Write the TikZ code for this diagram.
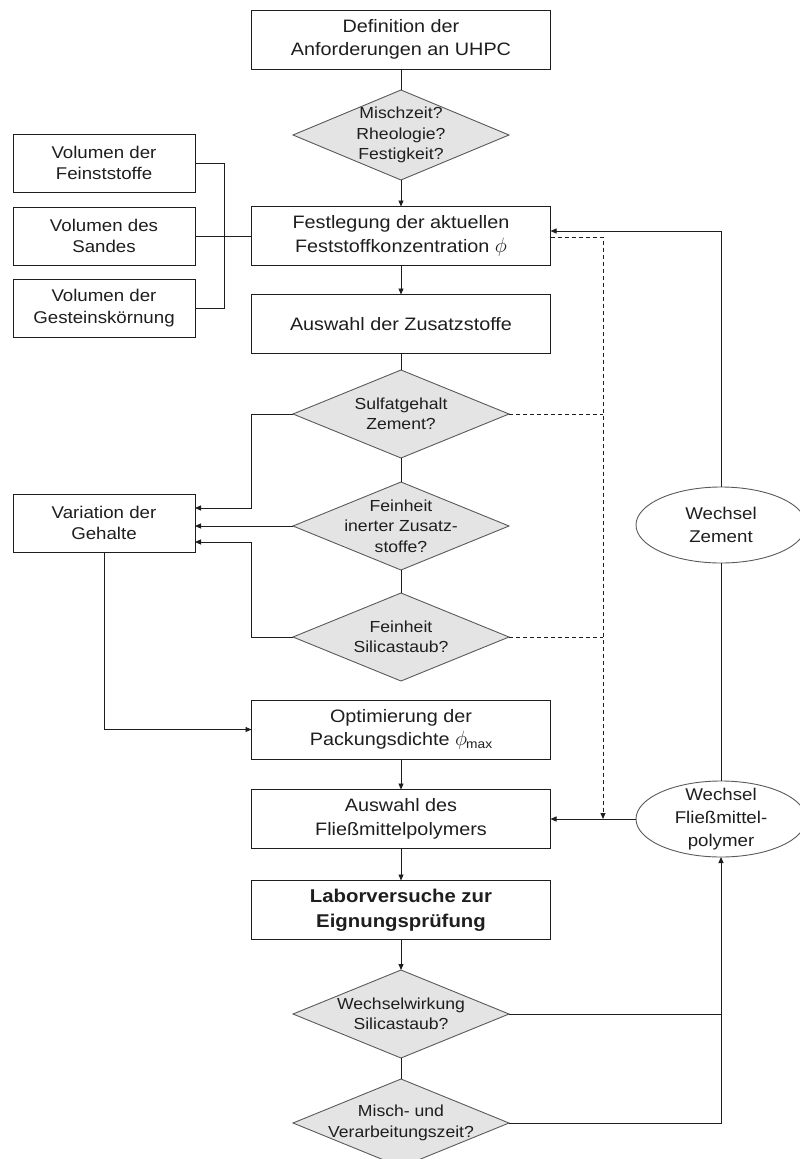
\documentclass[tikz,border=0pt]{standalone}
\usepackage{fontspec}
\setmainfont{Liberation Sans}[FakeStretch=1.1]
\usetikzlibrary{shapes.geometric,arrows.meta}
\definecolor{decfill}{HTML}{E4E4E4}
\definecolor{decline}{HTML}{5A5A5A}
\definecolor{ink}{HTML}{1E1E1E}
\newcommand{\phisym}{{\fontsize{21}{21}\selectfont$\phi$}}
\begin{document}
\begin{tikzpicture}[x=1pt,y=-1pt,
  every node/.style={inner sep=0pt,outer sep=0pt,text=ink},
  line/.style={line width=0.9pt,draw=ink},
  arr/.style={line,-{Triangle[length=6pt,width=5pt]}},
  dsh/.style={dash pattern=on 4pt off 3pt,line width=0.8pt},
  proc/.style={draw=ink,line width=0.9pt,fill=white,minimum width=299pt,
    minimum height=59pt,align=center,font=\fontsize{18}{23.5}\selectfont},
  side/.style={draw=ink,line width=0.9pt,fill=white,minimum width=182pt,
    minimum height=58pt,align=center,font=\fontsize{17}{21.5}\selectfont},
  dec/.style={diamond,draw=decline,fill=decfill,line width=0.9pt,
    minimum width=216pt,minimum height=88pt},
  dtext/.style={align=center,text=ink,font=\fontsize{16}{20.5}\selectfont},
  alt/.style={ellipse,draw=decline,fill=white,line width=0.9pt,
    minimum width=170pt,minimum height=76pt},
  atext/.style={align=center,text=ink,font=\fontsize{17}{23}\selectfont}]
\useasboundingbox (0,0) rectangle (800,1159);

% main column
\node[proc] (def) at (401,39.5) {Definition der\\Anforderungen an UHPC};
\node[dec,minimum height=90pt,label={[dtext]center:Mischzeit?\\Rheologie?\\Festigkeit?}] (q1) at (401,135) {};
\node[proc] (fest) at (401,236) {Festlegung der aktuellen\\Feststoffkonzentration \phisym};
\node[proc] (zus) at (401,324) {Auswahl der Zusatzstoffe};
\node[dec,label={[dtext]center:Sulfatgehalt\\Zement?}] (sulf) at (401,414) {};
\node[dec,label={[dtext]center:Feinheit\\inerter Zusatz-\\stoffe?}] (fein) at (401,526) {};
\node[dec,label={[dtext]center:Feinheit\\Silicastaub?}] (sil) at (401,637) {};
\node[proc] (opt) at (401,729.5) {Optimierung der\\Packungsdichte \phisym\kern-1pt\raisebox{-3pt}{\fontsize{12.5}{12.5}\selectfont max}};
\node[proc] (fm) at (401,819) {Auswahl des\\Fließmittelpolymers};
\node[proc,font=\bfseries\fontsize{18.5}{25}\selectfont] (lab) at (401,910) {Laborversuche zur\\Eignungsprüfung};
\node[dec,label={[dtext]center:Wechselwirkung\\Silicastaub?}] (ww) at (401,1014) {};
\node[dec,label={[dtext]center:Misch- und\\Verarbeitungszeit?}] (mv) at (401,1123) {};

% input volumes
\node[side] (vf) at (104,163) {Volumen der\\Feinststoffe};
\node[side] (vs) at (104,236) {Volumen des\\Sandes};
\node[side] (vg) at (104,308) {Volumen der\\Gesteinskörnung};
\node[side] (var) at (104,523) {Variation der\\Gehalte};

% change loops
\node[alt,label={[atext]center:Wechsel\\Zement}] (wz) at (721,525) {};
\node[alt,label={[atext]center:Wechsel\\Fließmittel-\\polymer}] (wf) at (721,819) {};
\coordinate (dj) at (603,819);

% main flow
\draw[line] (def) -- (q1);
\draw[arr] (q1) -- (fest);
\draw[arr] (fest) -- (zus);
\draw[line] (zus) -- (sulf);
\draw[line] (sulf) -- (fein);
\draw[line] (fein) -- (sil);
\draw[arr] (opt) -- (fm);
\draw[arr] (fm) -- (lab);
\draw[arr] (lab) -- (ww);
\draw[line] (ww) -- (mv);

% volumes into the solid concentration
\draw[line] (vf.east) -- ++(29,0) |- (vg.east);
\draw[line] (vs.east) -- (fest.west);

% admixture checks back to the contents
\draw[arr] (sulf.west) -- ++(-42,0) |- ([yshift=15pt]var.east);
\draw[arr] (fein.west) -- (fein.west -| var.east);
\draw[arr] (sil.west) -- ++(-42,0) |- ([yshift=-19pt]var.east);
\draw[arr] (var.south) |- (opt.west);

% dashed feedback to the superplasticizer choice
\draw[line,dsh] (sulf.east) -- (sulf.east -| dj);
\draw[line,dsh] (sil.east) -- (sil.east -| dj);
\draw[arr,dsh] ([yshift=-1pt]fest.east) -| (dj);

% solid feedback loops
\draw[arr] (wf.west) -- (fm.east);
\draw[line] (wf.north) -- (wz.south);
\draw[arr] (wz.north) |- ([yshift=5pt]fest.east);
\draw[line] (ww.east) -- (ww.east -| wf.south);
\draw[arr] (mv.east) -| (wf.south);
\end{tikzpicture}
\end{document}
